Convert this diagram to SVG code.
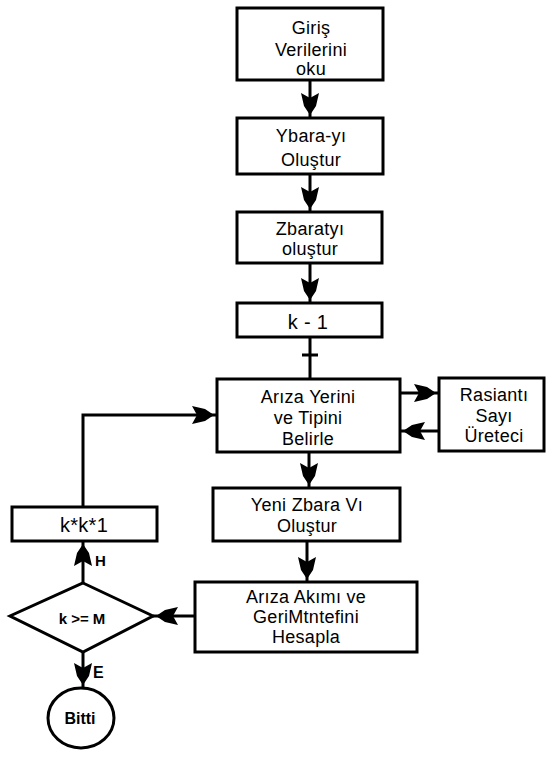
<svg xmlns="http://www.w3.org/2000/svg" width="546" height="766" viewBox="0 0 546 766">
<style>
.box{fill:#fff;stroke:#000;stroke-width:3}
.t{font-family:"Liberation Sans",Arial,sans-serif;font-size:18px;letter-spacing:0.3px;text-anchor:middle;fill:#000}
.big{font-size:20px}
.b{font-family:"Liberation Sans",Arial,sans-serif;font-weight:bold;fill:#000}
.c{fill:none;stroke:#000;stroke-width:3}
</style>
<defs>
<marker id="ah" markerUnits="userSpaceOnUse" orient="auto" viewBox="-23 -10 27 20" markerWidth="27" markerHeight="20" refX="3" refY="0">
<path d="M0,0 L-9,-6 L-22,-9 L-17,0 L-22,9 L-9,6 Z" fill="#000"/>
</marker>
</defs>
<rect width="546" height="766" fill="#fff"/>
<g id="connectors">
<line class="c" x1="310" y1="80" x2="310" y2="118" marker-end="url(#ah)"/>
<line class="c" x1="310" y1="174" x2="310" y2="212" marker-end="url(#ah)"/>
<line class="c" x1="310" y1="263" x2="310" y2="303" marker-end="url(#ah)"/>
<line class="c" x1="310" y1="337" x2="310" y2="379"/>
<line class="c" x1="302" y1="355" x2="318" y2="355"/>
<line class="c" x1="400" y1="393" x2="439" y2="393" marker-end="url(#ah)"/>
<line class="c" x1="439" y1="431" x2="400" y2="431" marker-end="url(#ah)"/>
<line class="c" x1="309" y1="452" x2="309" y2="488" marker-end="url(#ah)"/>
<line class="c" x1="307" y1="541" x2="307" y2="582" marker-end="url(#ah)"/>
<line class="c" x1="195" y1="616" x2="153" y2="616" marker-end="url(#ah)"/>
<line class="c" x1="83" y1="583" x2="83" y2="541" marker-end="url(#ah)"/>
<polyline class="c" points="83,507 83,415 217,415" marker-end="url(#ah)"/>
<line class="c" x1="83" y1="652" x2="83" y2="688" marker-end="url(#ah)"/>
<text class="b" x="95" y="566" font-size="15">H</text>
<text class="b" x="93" y="678" font-size="16">E</text>
</g>
<g id="n1">
<rect class="box" x="237" y="8" width="146" height="72"/>
<text class="t" x="311" y="34">Giriş</text>
<text class="t" x="311" y="56">Verilerini</text>
<text class="t" x="311" y="75">oku</text>
</g>
<g id="n2">
<rect class="box" x="237" y="118" width="146" height="56"/>
<text class="t" x="311" y="142">Ybara-yı</text>
<text class="t" x="311" y="166">Oluştur</text>
</g>
<g id="n3">
<rect class="box" x="237" y="212" width="145" height="51"/>
<text class="t" x="310" y="235">Zbaratyı</text>
<text class="t" x="310" y="255">oluştur</text>
</g>
<g id="n4">
<rect class="box" x="237" y="303" width="145" height="34"/>
<text class="t big" x="308" y="329">k - 1</text>
</g>
<g id="n5">
<rect class="box" x="217" y="379" width="183" height="73"/>
<text class="t" x="308" y="403">Arıza Yerini</text>
<text class="t" x="308" y="424">ve  Tipini</text>
<text class="t" x="308" y="445">Belirle</text>
</g>
<g id="n6">
<rect class="box" x="439" y="378" width="105" height="73"/>
<text class="t" x="494" y="401">Rasiantı</text>
<text class="t" x="494" y="422">Sayı</text>
<text class="t" x="494" y="442">Üreteci</text>
</g>
<g id="n7">
<rect class="box" x="213" y="488" width="187" height="53"/>
<text class="t" x="307" y="511">Yeni Zbara Vı</text>
<text class="t" x="307" y="532">Oluştur</text>
</g>
<g id="n8">
<rect class="box" x="195" y="582" width="222" height="70"/>
<text class="t" x="306" y="603">Arıza Akımı ve</text>
<text class="t" x="306" y="623">GeriMtntefini</text>
<text class="t" x="306" y="643">Hesapla</text>
</g>
<g id="n9">
<rect class="box" x="12" y="507" width="145" height="34"/>
<text class="t big" x="84" y="532">k*k*1</text>
</g>
<g id="n10">
<polygon class="box" points="83,583 153,616 83,652 10,616"/>
<text class="b" x="82" y="624" font-size="15" text-anchor="middle">k &gt;= M</text>
</g>
<g id="n11">
<ellipse class="box" cx="81" cy="718" rx="33" ry="30"/>
<text class="b" x="80" y="724" font-size="16" text-anchor="middle">Bitti</text>
</g>
</svg>
